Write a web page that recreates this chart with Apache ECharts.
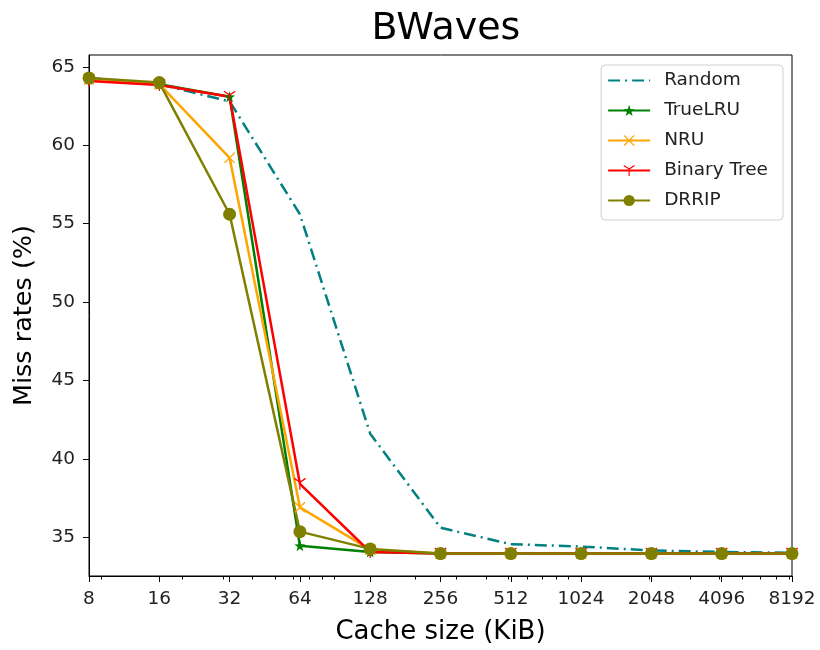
<!DOCTYPE html>
<html>
<head>
<meta charset="utf-8">
<script src="https://cdn.jsdelivr.net/npm/echarts@6/dist/echarts.min.js"></script>
<style>html,body{margin:0;padding:0;background:#fff}#c{width:820px;height:650px}</style>
</head>
<body>
<div id="c"></div>
<script>
const cacheSizes = [8, 16, 32, 64, 128, 256, 512, 1024, 2048, 4096, 8192];
const randomRates = [64.3, 63.9, 62.8, 55.6, 41.6, 35.6, 34.55, 34.4, 34.15, 34.05, 34.0];
const trueLRURates = [64.2, 63.9, 63.1, 34.45, 34.05, 33.95, 33.95, 33.95, 33.95, 33.95, 33.95];
const nruRates = [64.2, 63.9, 59.2, 36.9, 34.2, 33.95, 33.95, 33.95, 33.95, 33.95, 33.95];
const binaryTreeRates = [64.1, 63.85, 63.1, 38.4, 34.05, 33.95, 33.95, 33.95, 33.95, 33.95, 33.95];
const drripRates = [64.3, 64.0, 55.6, 35.35, 34.25, 33.95, 33.95, 33.95, 33.95, 33.95, 33.95];
const yTicks = [35, 40, 45, 50, 55, 60, 65];
const minorXTicks = [9, 20, 30, 40, 50, 60, 70, 80, 90, 200, 300, 400, 500, 600, 700, 800, 900, 2000, 3000, 4000, 5000, 6000, 7000, 8000];

const FONT = 'DejaVu Sans';
const pair = arr => cacheSizes.map((x, i) => [x, arr[i]]);

const STAR = 'path://M5,0 L6.18,3.38 L9.76,3.45 L6.9,5.62 L7.94,9.05 L5,7 L2.06,9.05 L3.1,5.62 L0.24,3.45 L3.82,3.38 Z';
const XMARK = 'path://M0,0.8 L0.8,0 L5,4.2 L9.2,0 L10,0.8 L5.8,5 L10,9.2 L9.2,10 L5,5.8 L0.8,10 L0,9.2 L4.2,5 Z';
const TRI = 'path://M4.5,5 L4.5,10 L5.5,10 L5.5,5.1 L9.8,2.6 L9.3,1.8 L5,4.3 L0.7,1.8 L0.2,2.6 Z';

const chart = echarts.init(document.getElementById('c'), null, {renderer: 'canvas'});

function mk(name, data, color, symbol, size, extra) {
  return Object.assign({
    name: name, type: 'line', data: pair(data),
    xAxisIndex: 0, yAxisIndex: 0,
    symbol: symbol, symbolSize: size, showSymbol: true,
    lineStyle: {color: color, width: 2.5},
    itemStyle: {color: color},
    animation: false
  }, extra || {});
}

chart.setOption({
  backgroundColor: '#fff',
  animation: false,
  title: {
    text: 'BWaves', left: 441, top: 5, textAlign: 'center',
    textStyle: {fontFamily: FONT, fontSize: 38, fontWeight: 'normal', color: '#000'}
  },
  grid: {left: 89, right: 28, top: 55, bottom: 73, show: true, borderColor: '#000', borderWidth: 1, backgroundColor: 'transparent'},
  legend: {
    orient: 'vertical', right: 37, top: 65,
    itemWidth: 42, itemHeight: 14, itemGap: 11,
    padding: [6, 15, 10, 6],
    borderColor: '#d0d0d0', borderWidth: 1, borderRadius: 4,
    backgroundColor: 'rgba(255,255,255,0.8)',
    textStyle: {fontFamily: FONT, fontSize: 18.5, color: '#222', padding: [0, 0, 0, 9]},
    data: [{name: 'Random', itemStyle: {opacity: 0}}, 'TrueLRU', 'NRU', 'Binary Tree', 'DRRIP']
  },
  xAxis: [{
    type: 'log', logBase: 2, min: 8, max: 8192,
    name: 'Cache size (KiB)', nameLocation: 'middle', nameGap: 43,
    nameTextStyle: {fontFamily: FONT, fontSize: 26, color: '#000'},
    axisLine: {show: true, lineStyle: {color: '#000', width: 1}},
    axisTick: {show: true, length: 6, lineStyle: {color: '#000'}, customValues: cacheSizes},
    axisLabel: {fontFamily: FONT, fontSize: 18.5, color: '#222', margin: 14, customValues: cacheSizes, showMinLabel: true, showMaxLabel: true, formatter: v => String(Math.round(v))},
    splitLine: {show: false}, minorTick: {show: false}
  }, {
    type: 'log', logBase: 10, min: 8, max: 8192, position: 'bottom',
    axisLine: {show: false},
    axisTick: {show: true, length: 3.5, lineStyle: {color: '#000'}, customValues: minorXTicks},
    axisLabel: {show: false},
    splitLine: {show: false}
  }],
  yAxis: {
    type: 'value', min: 32.52, max: 65.76,
    name: 'Miss rates (%)', nameLocation: 'middle', nameGap: 52,
    nameTextStyle: {fontFamily: FONT, fontSize: 25.5, color: '#000'},
    axisLine: {show: true, lineStyle: {color: '#000', width: 1}},
    axisTick: {show: true, length: 6, lineStyle: {color: '#000'}, customValues: yTicks},
    axisLabel: {fontFamily: FONT, fontSize: 18.5, color: '#222', margin: 14, customValues: yTicks},
    splitLine: {show: false}
  },
  series: [
    mk('Random', randomRates, '#008080', 'circle', 0, {showSymbol: false, lineStyle: {color: '#008080', width: 2.5, type: [12, 5, 2, 5]}}),
    mk('TrueLRU', trueLRURates, '#008000', STAR, 11),
    mk('NRU', nruRates, '#FFA500', XMARK, 11),
    mk('Binary Tree', binaryTreeRates, '#FF0000', TRI, 12),
    mk('DRRIP', drripRates, '#808000', 'circle', 13)
  ]
});
</script>
</body>
</html>
